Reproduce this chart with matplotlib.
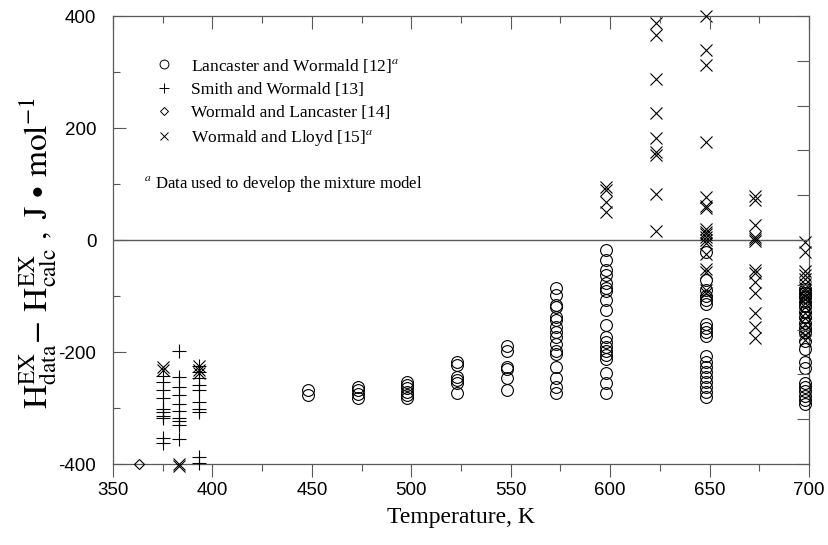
import numpy as np
import matplotlib
matplotlib.use('Agg')
import matplotlib.pyplot as plt
from matplotlib.ticker import MultipleLocator
from matplotlib.lines import Line2D

plt.rcParams['font.family'] = ['Liberation Serif', 'DejaVu Serif']
plt.rcParams['mathtext.fontset'] = 'stix'
plt.rcParams['axes.unicode_minus'] = False

# Lancaster and Wormald [12] (circles), grouped by temperature
circ = {
    448: [-268, -277],
    473: [-262, -268, -275, -283],
    498: [-253, -259, -265, -271, -277, -283],
    523: [-218, -223, -244, -250, -255, -273],
    548: [-190, -199, -226, -231, -247, -268],
    573: [-85, -99, -116, -120, -138, -143, -155, -164, -173, -185, -199, -204,
          -226, -247, -262, -274],
    598: [-17, -36, -54, -63, -77, -85, -91, -107, -125, -152, -173, -182, -191,
          -198, -205, -212, -237, -256, -273],
    648: [-21, -71, -90, -100, -108, -115, -150, -157, -165, -172, -208, -217,
          -226, -235, -244, -253, -262, -271, -280],
    698: [-88, -95, -102, -110, -118, -128, -138, -148, -158, -165, -180, -195,
          -218, -228, -255, -262, -270, -278, -285, -292],
}
# Smith and Wormald [13] (plus)
plus = {
    375: [-243, -253, -268, -283, -302, -308, -314, -318, -354, -363],
    383: [-199, -244, -263, -277, -293, -305, -318, -324, -330, -355],
    393: [-225, -235, -246, -259, -268, -289, -301, -308, -387, -399],
}
# Wormald and Lancaster [14] (diamond)
diam = {363: [-400]}
# Wormald and Lloyd [15] (cross)
cross = {
    375: [-227, -232],
    383: [-400, -403],
    393: [-225, -232, -238],
    598: [95, 89, 68, 50],
    623: [387, 366, 287, 226, 182, 157, 152, 82, 16],
    648: [400, 339, 312, 175, 76, 60, 57, 20, 15, 10, 5, 0, -5, -25, -52, -57,
          -89, -95],
    673: [79, 72, 27, 5, 2, -2, -54, -59, -75, -95, -131, -155, -175],
    698: [-4, -21, -55, -62, -70, -78, -85, -90, -95, -100, -105, -112, -120,
          -130, -140, -150, -160, -170, -178],
}

legend_labels = ['Lancaster and Wormald [12]$^{\\mathit{a}}$',
                 'Smith and Wormald [13]',
                 'Wormald and Lancaster [14]',
                 'Wormald and Lloyd [15]$^{\\mathit{a}}$']


def flat(d):
    xs, ys = [], []
    for t, vals in d.items():
        xs += [t] * len(vals)
        ys += vals
    return xs, ys


fig = plt.figure(figsize=(8.29, 5.45), dpi=100)
ax = fig.add_axes([0.1363, 0.1486, 0.8396, 0.822])

ax.axhline(0, color='0.35', lw=1.0, zorder=1)

styles = [(circ, 'o', 8.5), (plus, '+', 10), (diam, 'D', 5.5), (cross, 'x', 8.5)]
handles = []
for (d, m, ms), lab in zip(styles, legend_labels):
    xs, ys = flat(d)
    ax.plot(xs, ys, ls='none', marker=m, ms=ms, mfc='none', mec='black',
            mew=0.8, clip_on=False, zorder=3)
    handles.append(Line2D([], [], ls='none', marker=m, ms=ms * 0.75,
                          mfc='none', mec='black', mew=0.7, label=lab))

ax.set_xlim(350, 700)
ax.set_ylim(-400, 400)
ax.xaxis.set_major_locator(MultipleLocator(50))
ax.xaxis.set_minor_locator(MultipleLocator(25))
ax.yaxis.set_major_locator(MultipleLocator(200))
ax.yaxis.set_minor_locator(MultipleLocator(100))
ax.tick_params(axis='x', which='major', direction='out', length=9, width=0.8,
               colors='0.35', labelcolor='black', labelsize=13.5, pad=4)
ax.tick_params(axis='x', which='minor', direction='out', length=5, width=0.8,
               colors='0.35')
ax.tick_params(axis='y', which='major', direction='in', length=9, width=0.8,
               colors='0.35', labelcolor='black', labelsize=13.5, pad=12)
ax.tick_params(axis='y', which='minor', direction='in', length=5, width=0.8,
               colors='0.35')
for lbl in ax.get_xticklabels() + ax.get_yticklabels():
    lbl.set_family('Liberation Sans')
for s in ax.spines.values():
    s.set_color('0.35')
    s.set_linewidth(0.9)

# top and right tick marks
axt = ax.twiny()
axt.set_xlim(350, 700)
axt.xaxis.set_major_locator(MultipleLocator(50))
axt.xaxis.set_minor_locator(MultipleLocator(25))
axt.tick_params(axis='x', which='major', direction='in', length=9, width=0.8,
                colors='0.35', labeltop=False)
axt.tick_params(axis='x', which='minor', direction='in', length=5, width=0.8,
                colors='0.35')
axr = ax.twinx()
axr.set_ylim(-400, 400)
axr.set_yticks(np.arange(-400, 401, 80))
axr.tick_params(axis='y', direction='in', length=9, width=0.8, colors='0.35',
                labelright=False)
for a in (axt, axr):
    for s in a.spines.values():
        s.set_visible(False)

ax.set_xlabel('Temperature, K', fontsize=17, labelpad=6)
ax.set_ylabel(r'$\mathrm{H^{EX}_{data}\!-\,H^{EX}_{calc}\ ,\ J\,\bullet\,mol^{-1}}$',
              fontsize=24)
ax.yaxis.set_label_coords(-0.077, 0.47)

leg = ax.legend(handles=handles, loc='upper left', bbox_to_anchor=(0.038, 0.925),
                frameon=False, fontsize=12.5, handletextpad=0.55,
                labelspacing=0.4, borderaxespad=0)
ax.text(0.044, 0.625, r'$^{\mathit{a}}$ Data used to develop the mixture model',
        transform=ax.transAxes, fontsize=12, va='center', ha='left')

fig.savefig('out.png', dpi=100)
